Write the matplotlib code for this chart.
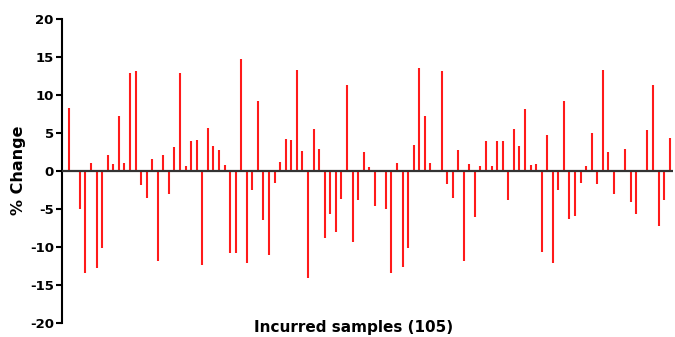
import matplotlib.pyplot as plt
import numpy as np

# % change per incurred sample (0 where no bar is visible)
pct_change = [
    8.3, 0.0, -5.0, -13.4, 1.0, -12.75, -10.1, 2.0, 0.9, 7.2,
    1.0, 12.8, 13.1, -1.9, -3.6, 1.6, -11.9, 2.0, -3.1, 3.1,
    12.8, 0.65, 3.85, 4.0, -12.45, 5.6, 3.3, 2.7, 0.8, -10.8,
    -10.8, 14.7, -12.1, -2.5, 9.2, -6.5, -11.1, -1.6, 1.1, 4.2,
    4.0, 13.3, 2.6, -14.1, 5.5, 2.8, -8.8, -5.75, -8.0, -3.7,
    11.2, -9.4, -3.8, 2.5, 0.45, -4.7, 0.0, -5.0, -13.4, 1.0,
    -12.7, -10.1, 3.4, 13.45, 7.2, 1.0, 0.0, 13.1, -1.8, -3.6,
    2.7, -11.9, 0.9, -6.1, 0.65, 3.9, 0.65, 3.85, 3.9, -3.9,
    5.5, 3.3, 8.1, 0.8, 0.9, -10.7, 4.7, -12.1, -2.5, 9.2,
    -6.4, -6.0, -1.6, 0.6, 4.9, -1.7, 13.3, 2.5, -3.0, 0.0,
    2.8, -4.1, -5.75, 0.0, 5.4, 11.2, -7.3, -3.9, 4.3,
]
yticks = [-20, -15, -10, -5, 0, 5, 10, 15, 20]

plt.rcParams['axes.unicode_minus'] = False

x = np.arange(len(pct_change))

fig = plt.figure(figsize=(6.75, 3.37), dpi=100)
ax = fig.add_axes([0.092, 0.042, 0.905, 0.903])

ax.vlines(x, 0, pct_change, color='#ff1a1a', linewidth=1.5)
ax.axhline(0, color='#333333', linewidth=1.6, zorder=3)

ax.set_xlim(-1.2, 108.6)
ax.set_ylim(-20, 20)
ax.set_yticks(yticks)
ax.set_xticks([])

for s in ['top', 'right', 'bottom']:
    ax.spines[s].set_visible(False)
ax.spines['left'].set_linewidth(1.5)
ax.tick_params(axis='y', direction='out', length=4, width=1.5, pad=2,
               labelsize=9.5)
for lab in ax.get_yticklabels():
    lab.set_fontweight('bold')

ax.set_ylabel('% Change', fontsize=11.5, fontweight='bold', labelpad=3)
fig.text(0.524, 0.005, 'Incurred samples (105)', ha='center', va='bottom',
         fontsize=11, fontweight='bold')

fig.savefig('out.png', dpi=100)
